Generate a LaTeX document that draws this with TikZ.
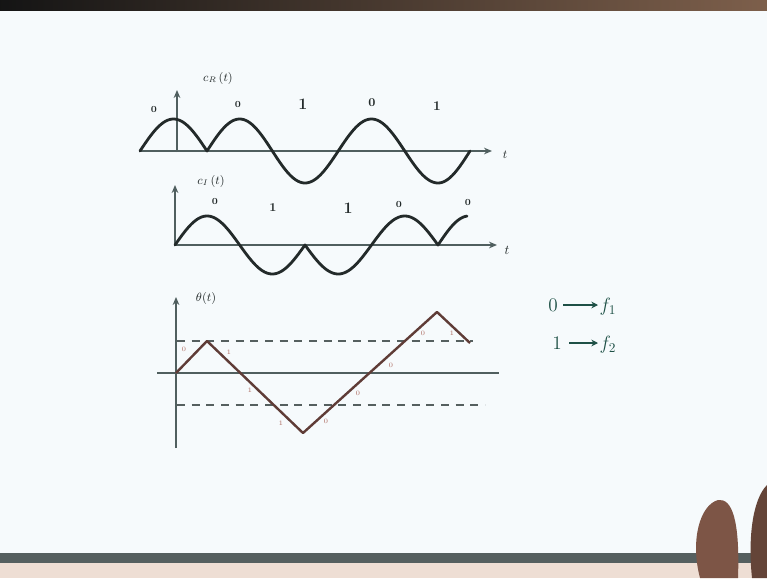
\documentclass[tikz,border=0pt]{standalone}
\usetikzlibrary{arrows.meta}
\definecolor{board}{RGB}{246,250,252}
\definecolor{ink}{RGB}{35,42,42}
\definecolor{axisc}{RGB}{80,95,95}
\definecolor{phasec}{RGB}{95,60,55}
\definecolor{redlab}{RGB}{175,110,100}
\definecolor{greenink}{RGB}{30,80,70}
\definecolor{dashc}{RGB}{85,95,95}
\definecolor{skin}{RGB}{125,85,70}
\definecolor{desk}{RGB}{238,222,212}
\definecolor{topbrown}{RGB}{125,95,75}
\definecolor{edgegray}{RGB}{85,95,95}
\begin{document}
\begin{tikzpicture}[x=0.75pt,y=-0.75pt,
  wave/.style={ink,line width=2.1pt,line cap=round,line join=round},
  axisline/.style={axisc,line width=1.4pt},
  arr/.style={-{Stealth[length=6pt,width=5pt]}},
  dashline/.style={dashc,line width=1.8pt,dash pattern=on 6pt off 5pt},
  phaseline/.style={phasec,line width=1.8pt,line join=round},
  bit/.style={ink,font=\bfseries},
  smallbit/.style={redlab,font=\tiny},
  lab/.style={ink,font=\small},
  green/.style={greenink,font=\Large,inner sep=1pt},
  greenarrow/.style={greenink,line width=1.4pt,-{Stealth[length=5pt,width=5pt]}}]
% background (photographed board)
\fill[board] (0,0) rectangle (767,578);
\shade[left color=black!92, right color=topbrown] (0,0) rectangle (767,10);
\fill[edgegray] (0,553) rectangle (767,563);
\fill[desk] (0,563) rectangle (767,578);
\fill[skin] (700,578) .. controls (690,540) and (700,505) .. (718,500)
  .. controls (732,498) and (740,520) .. (738,578) -- cycle;
\fill[skin!80!black] (752,578) .. controls (748,540) and (752,500) .. (767,485) -- (767,578) -- cycle;

% ---------- top plot c_R(t)
\draw[axisline,arr] (140,151) -- (492,151);
\draw[axisline,arr] (177,152) -- (177,90);
\node[lab] (cR) at (218,78) {$c_R\,(t)$};
\node[lab] (t1) at (505,155) {$t$};
\draw[wave] plot[domain=140:207,samples=40] (\x,{151-32*cos(-90+(\x-140)*2.6866)})
  -- plot[domain=207:305,samples=60] (\x,{151-32*cos(90-(\x-207)*2.7551)})
  -- plot[domain=305:438,samples=80] (\x,{151-32*cos(-180+(\x-305)*2.7068)})
  -- plot[domain=438:470,samples=30] (\x,{151-32*cos(180-(\x-438)*2.8125)});
\node[bit,font=\bfseries\scriptsize] (a1) at (154,109) {0};
\node[bit,font=\bfseries\scriptsize] (a2) at (238,104) {0};
\node[bit,font=\bfseries\large] (a3) at (303,104) {1};
\node[bit,font=\bfseries\small] (a4) at (372,103) {0};
\node[bit,font=\bfseries\normalsize] (a5) at (437,106) {1};

% ---------- middle plot c_I(t)
\draw[axisline,arr] (175,245) -- (497,245);
\draw[axisline,arr] (175,246) -- (175,185);
\node[lab] (cI) at (211,181) {$c_I\,(t)$};
\node[lab,font=\normalsize] (t2) at (507,250) {$t$};
\draw[wave] plot[domain=175:207,samples=30] (\x,{245-29*sin((\x-175)*2.8125)})
  -- plot[domain=207:305,samples=60] (\x,{245-29*sin(90-(\x-207)*2.7551)})
  -- plot[domain=305:438,samples=80] (\x,{245-29*sin(-180+(\x-305)*2.7068)})
  -- plot[domain=438:467,samples=30] (\x,{245-29*sin(180-(\x-438)*2.931)});
\node[bit,font=\bfseries\scriptsize] (b1) at (215,201) {0};
\node[bit,font=\bfseries\small] (b2) at (273,208) {1};
\node[bit,font=\bfseries\large] (b3) at (348,208) {1};
\node[bit,font=\bfseries\scriptsize] (b4) at (399,204) {0};
\node[bit,font=\bfseries\scriptsize] (b5) at (468,202) {0};

% ---------- bottom plot theta(t)
\draw[axisline,arr] (176,448) -- (176,297);
\draw[axisline] (157,373) -- (499,373);
\node[lab] (th) at (206,298) {$\theta(t)$};
\draw[dashline] (177,341) -- (473,341);
\draw[dashline] (177,405) -- (485,405);
\draw[phaseline] (176,373) -- (207,341) -- (303,433) -- (437,312) -- (470,343);
\node[smallbit] (p1) at (184,349) {0};
\node[smallbit] (p2) at (229,352) {1};
\node[smallbit] (p3) at (250,390) {1};
\node[smallbit] (p4) at (281,423) {1};
\node[smallbit] (p5) at (326,421) {0};
\node[smallbit] (p6) at (358,393) {0};
\node[smallbit] (p7) at (391,365) {0};
\node[smallbit] (p8) at (423,333) {0};
\node[smallbit] (p9) at (452,333) {1};

% ---------- mapping
\node[green] (z) at (553,305) {0};
\node[green,anchor=west] (f1) at (598,307) {$f_1$};
\draw[greenarrow] (z.east) ++(4,0) coordinate (za) -- (za -| f1.west);
\node[green] (o) at (557,343) {1};
\node[green,anchor=west] (f2) at (598,345) {$f_2$};
\draw[greenarrow] (o.east) ++(6,0) coordinate (oa) -- (oa -| f2.west);
\end{tikzpicture}
\end{document}
